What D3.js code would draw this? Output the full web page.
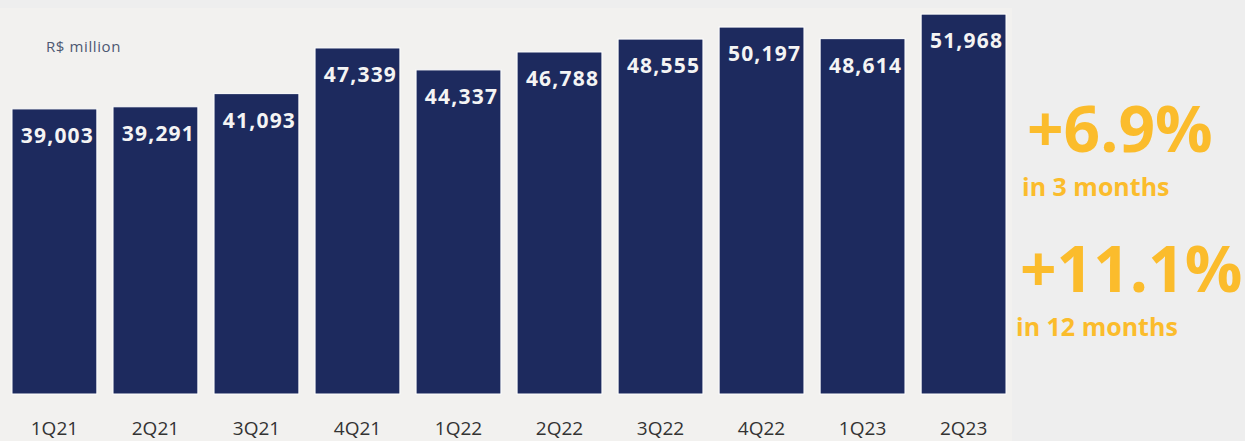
<!DOCTYPE html>
<html>
<head>
<meta charset="utf-8">
<script src="https://cdn.jsdelivr.net/npm/d3@7/dist/d3.min.js"></script>
<style>
  html, body { margin: 0; padding: 0; background: #eeeeee; }
  svg { display: block; }
</style>
</head>
<body>
<svg id="chart" width="1245" height="441"></svg>
<script>
// Quarterly totals, R$ million
const quarters = ["1Q21","2Q21","3Q21","4Q21","1Q22","2Q22","3Q22","4Q22","1Q23","2Q23"];
const values = [39003, 39291, 41093, 47339, 44337, 46788, 48555, 50197, 48614, 51968];

// Growth callouts
const growthValues = ["+6.9%", "+11.1%"];
const growthPeriods = ["in 3 months", "in 12 months"];

const unitLabel = "R$ million";

const svg = d3.select("#chart");
const W = 1245, H = 441;

svg.append("rect").attr("width", W).attr("height", H).attr("fill", "#eeeeee");
// lighter plot panel
svg.append("rect").attr("x", 0).attr("y", 8).attr("width", 1012).attr("height", 433).attr("fill", "#f2f1ef");

const x = d3.scaleBand()
  .domain(quarters)
  .range([12, 1006])
  .paddingInner(0.16)
  .paddingOuter(0);

const y = d3.scaleLinear()
  .domain([0, 53900])
  .range([394, 0]);

const fmt = d3.format(",");

const bars = svg.append("g");
bars.selectAll("rect")
  .data(values)
  .join("rect")
  .attr("x", (d, i) => x(quarters[i]))
  .attr("y", d => y(d))
  .attr("width", x.bandwidth())
  .attr("height", d => y(0) - y(d))
  .attr("fill", "#1d2a5e")
  .attr("stroke", "#ffffff")
  .attr("stroke-width", 1);

bars.selectAll("text")
  .data(values)
  .join("text")
  .attr("x", (d, i) => x(quarters[i]) + x.bandwidth() / 2 + 3)
  .attr("y", d => y(d) + 34)
  .attr("text-anchor", "middle")
  .attr("fill", "#f4f4f4")
  .attr("font-family", "'Open Sans', sans-serif")
  .attr("font-weight", 700)
  .attr("font-size", 21)
  .attr("letter-spacing", 1.2)
  .text(d => fmt(d));

// category axis
const xAxis = svg.append("g")
  .attr("transform", "translate(0,394)")
  .call(d3.axisBottom(x).tickSize(0).tickPadding(0));
xAxis.select(".domain").remove();
xAxis.selectAll("text")
  .attr("y", 41)
  .attr("dy", 0)
  .attr("fill", "#333333")
  .attr("font-family", "'Open Sans', sans-serif")
  .attr("font-size", 19);

svg.append("text")
  .attr("x", 46).attr("y", 52)
  .attr("fill", "#4d5872")
  .attr("font-family", "'Open Sans', sans-serif")
  .attr("font-size", 15)
  .attr("letter-spacing", 0.6)
  .text(unitLabel);

// growth callouts
const gold = "#fbbc2c";
const callouts = [
  { big: growthValues[0], small: growthPeriods[0], bx: 1027, by: 152, sx: 1022, sy: 196 },
  { big: growthValues[1], small: growthPeriods[1], bx: 1020, by: 292, sx: 1016, sy: 336 }
];
callouts.forEach(c => {
  svg.append("text")
    .attr("x", c.bx).attr("y", c.by)
    .attr("fill", gold)
    .attr("font-family", "'Open Sans', sans-serif")
    .attr("font-weight", 700)
    .attr("font-size", 64)
    .text(c.big);
  svg.append("text")
    .attr("x", c.sx).attr("y", c.sy)
    .attr("fill", gold)
    .attr("font-family", "'Open Sans', sans-serif")
    .attr("font-weight", 700)
    .attr("font-size", 25)
    .text(c.small);
});
</script>
</body>
</html>
